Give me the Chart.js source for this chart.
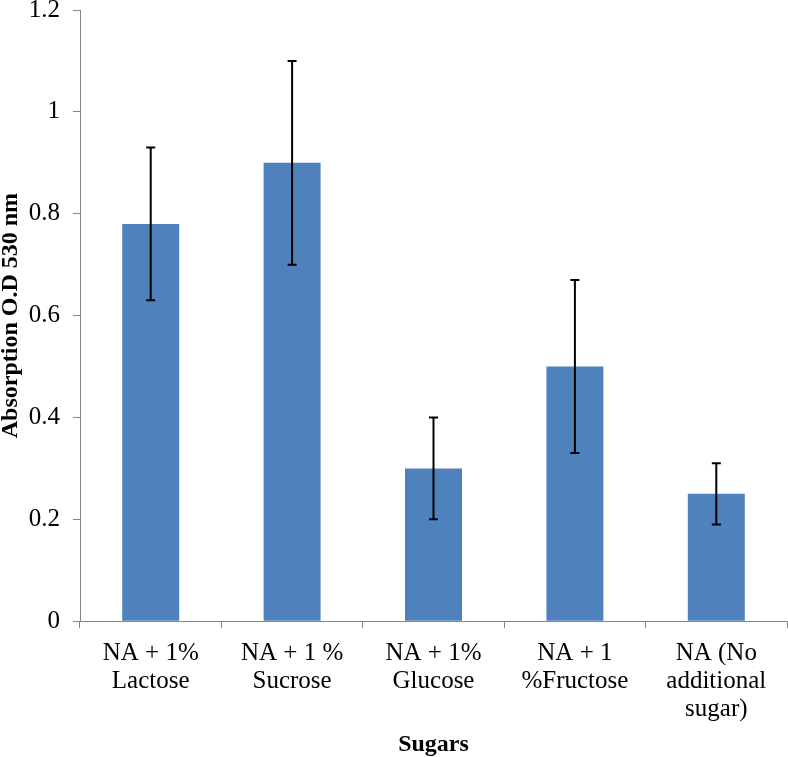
<!DOCTYPE html>
<html>
<head>
<meta charset="utf-8">
<script src="https://cdn.jsdelivr.net/npm/chart.js@4"></script>
<style>
  html, body { margin: 0; padding: 0; background: #fff; }
  #wrap { width: 788px; height: 757px; }
</style>
</head>
<body>
<div id="wrap"><canvas id="c" width="788" height="757"></canvas></div>
<script>
const categories = [
  ['NA + 1%', 'Lactose'],
  ['NA + 1 %', 'Sucrose'],
  ['NA + 1%', 'Glucose'],
  ['NA + 1', '%Fructose'],
  ['NA (No', 'additional', 'sugar)']
];
const meanValues = [0.78, 0.90, 0.30, 0.50, 0.25];
const errorValues = [0.15, 0.20, 0.10, 0.17, 0.06];
const yTickValues = [0, 0.2, 0.4, 0.6, 0.8, 1, 1.2];
const yTickLabels = ['0', '0.2', '0.4', '0.6', '0.8', '1', '1.2'];
const xTitle = 'Sugars';
const yTitle = 'Absorption O.D 530 nm';

const errorBarPlugin = {
  id: 'errorBars',
  afterDatasetsDraw(chart) {
    const ctx = chart.ctx;
    const meta = chart.getDatasetMeta(0);
    const yScale = chart.scales.y;
    ctx.save();
    ctx.strokeStyle = '#000';
    ctx.lineWidth = 2;
    meta.data.forEach((bar, i) => {
      const x = bar.x;
      const top = yScale.getPixelForValue(meanValues[i] + errorValues[i]);
      const bot = yScale.getPixelForValue(meanValues[i] - errorValues[i]);
      const cap = 4.5;
      ctx.beginPath();
      ctx.moveTo(x, top); ctx.lineTo(x, bot);
      ctx.moveTo(x - cap, top); ctx.lineTo(x + cap, top);
      ctx.moveTo(x - cap, bot); ctx.lineTo(x + cap, bot);
      ctx.stroke();
    });
    ctx.restore();
  }
};

const serif = "'Liberation Serif', 'Times New Roman', serif";

new Chart(document.getElementById('c'), {
  type: 'bar',
  data: {
    labels: categories,
    datasets: [{
      data: meanValues,
      backgroundColor: '#4F81BD',
      borderWidth: 0,
      categoryPercentage: 1.0,
      barPercentage: 0.403
    }]
  },
  options: {
    responsive: false,
    animation: false,
    devicePixelRatio: 1,
    layout: { padding: { left: -4, right: 1, top: 0, bottom: -2 } },
    plugins: { legend: { display: false }, tooltip: { enabled: false } },
    scales: {
      x: {
        grid: {
          offset: true,
          drawOnChartArea: false,
          drawTicks: true,
          tickLength: 7,
          color: '#868686'
        },
        border: { display: true, color: '#868686', width: 1 },
        ticks: {
          color: '#000',
          font: { family: serif, size: 25, lineHeight: 1.12 },
          padding: 11,
          maxRotation: 0,
          autoSkip: false
        },
        title: {
          display: true,
          text: xTitle,
          color: '#000',
          font: { family: serif, size: 24, weight: 'bold' },
          padding: { top: -4, bottom: 0 }
        }
      },
      y: {
        min: 0,
        max: 1.2,
        afterBuildTicks(scale) {
          scale.ticks = yTickValues.map(v => ({ value: v }));
        },
        afterFit(scale) {
          scale.width = 84;
          scale.paddingTop = 10;
          scale.paddingBottom = 0;
        },
        grid: {
          drawOnChartArea: false,
          drawTicks: true,
          tickLength: 7,
          color: '#868686'
        },
        border: { display: true, color: '#868686', width: 1 },
        ticks: {
          color: '#000',
          font: { family: serif, size: 25 },
          padding: 13,
          callback: (v, i) => yTickLabels[i]
        },
        title: {
          display: true,
          text: yTitle,
          color: '#000',
          font: { family: serif, size: 24, weight: 'bold' },
          padding: { top: 0, bottom: 0 }
        }
      }
    }
  },
  plugins: [errorBarPlugin]
});
</script>
</body>
</html>
